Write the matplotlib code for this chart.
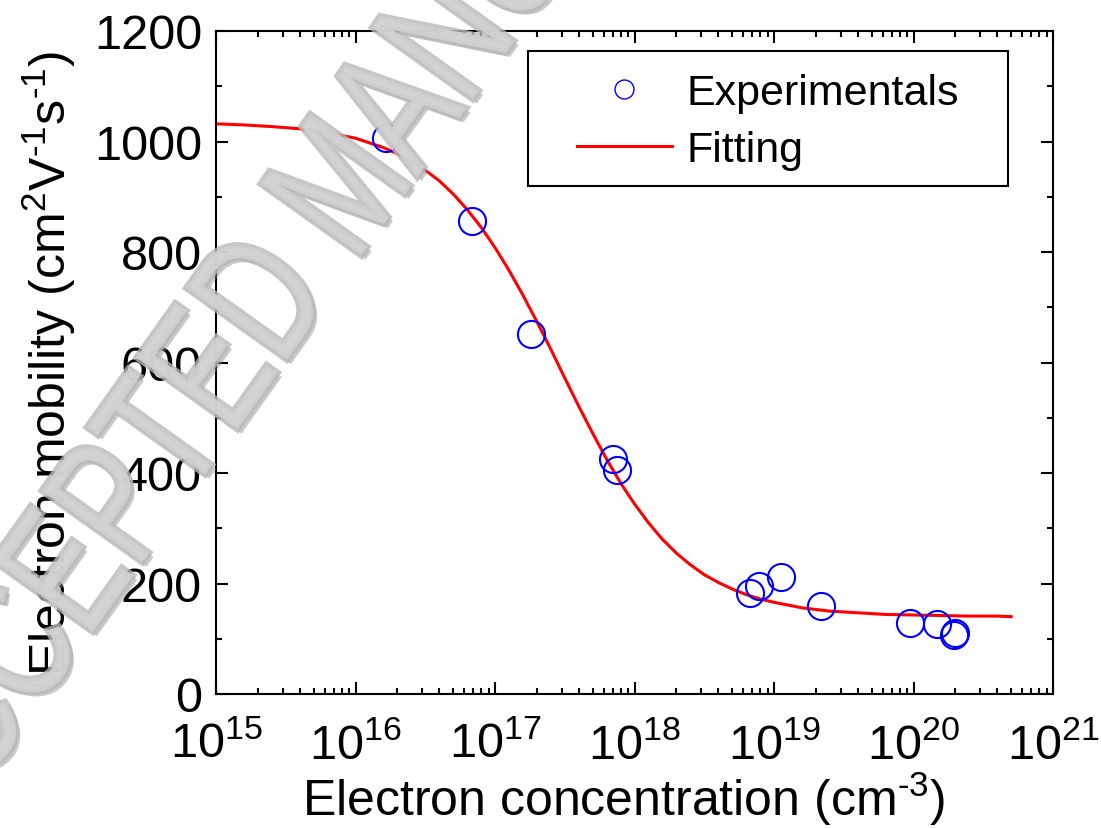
import matplotlib
matplotlib.use('Agg')
import matplotlib.pyplot as plt
import matplotlib.patheffects as pe
from matplotlib.patches import Rectangle, PathPatch
from matplotlib.textpath import TextPath
from matplotlib.font_manager import FontProperties
from matplotlib.transforms import Affine2D
from matplotlib.ticker import LogLocator, MultipleLocator, NullFormatter

plt.rcParams['font.family'] = ['Liberation Sans', 'DejaVu Sans']
plt.rcParams['mathtext.fontset'] = 'custom'
plt.rcParams['mathtext.rm'] = 'Liberation Sans'
plt.rcParams['mathtext.it'] = 'Liberation Sans:italic'
plt.rcParams['mathtext.bf'] = 'Liberation Sans:bold'

# ---- data ----
conc_exp = [1.66e16, 6.8e16, 1.81e17, 6.98e17, 7.45e17, 6.76e18, 7.8e18,
            1.12e19, 2.17e19, 9.4e19, 1.47e20, 1.95e20, 2.0e20]
mob_exp = [1007, 857, 652, 426, 406, 183, 196, 211, 160, 128, 127, 107, 111]

fit_log_conc = [15.0, 15.2, 15.4, 15.6, 15.8, 16.0, 16.2, 16.3, 16.4, 16.5,
                16.6, 16.7, 16.8, 16.9, 17.0, 17.1, 17.2, 17.3, 17.4, 17.5,
                17.6, 17.7, 17.8, 17.9, 18.0, 18.1, 18.2, 18.3, 18.4, 18.5,
                18.6, 18.7, 18.8, 18.9, 19.0, 19.2, 19.4, 19.6, 19.8, 20.0,
                20.2, 20.4, 20.6, 20.7]
fit_mob = [1032, 1030, 1027, 1023, 1016, 1006, 989, 978, 965, 948,
           929, 905, 877, 845, 808, 767, 722, 674, 624, 572,
           521, 472, 425, 382, 344, 310, 280, 255, 234, 216,
           202, 190, 180, 172, 166, 156, 150, 147, 144, 143,
           142, 141, 141, 140]
fit_conc = [10 ** v for v in fit_log_conc]

W, H = 1101, 829
fig = plt.figure(figsize=(W / 100, H / 100), dpi=100)
ax = fig.add_axes([216 / W, 1 - 695 / H, (1053 - 216) / W, (695 - 32) / H])

h_fit, = ax.plot(fit_conc, fit_mob, color='red', lw=2.2, label='Fitting', zorder=2)
h_exp, = ax.plot(conc_exp, mob_exp, ls='none', marker='o', ms=19.5, mfc='none',
                 mec='blue', mew=1.5, label='Experimentals', zorder=3)

ax.set_xscale('log')
ax.set_xlim(1e15, 1e21)
ax.set_ylim(0, 1200)
ax.xaxis.set_major_locator(LogLocator(base=10, numticks=20))
ax.xaxis.set_minor_locator(LogLocator(base=10, subs=range(2, 10), numticks=20))
ax.xaxis.set_minor_formatter(NullFormatter())
ax.yaxis.set_major_locator(MultipleLocator(200))
ax.yaxis.set_minor_locator(MultipleLocator(100))

ax.tick_params(which='both', direction='in', top=True, right=True, width=1.5)
ax.tick_params(which='major', length=8.5, labelsize=35)
ax.tick_params(which='minor', length=4.3)
ax.tick_params(axis='y', pad=10)
ax.tick_params(axis='x', pad=20)
for s in ax.spines.values():
    s.set_linewidth(1.5)

ax.set_xlabel(r'Electron concentration (cm$^{\text{-}3}$)', fontsize=36)
ax.set_ylabel(r'Electron mobility (cm$^{2}$V$^{\text{-}1}$s$^{\text{-}1}$)', fontsize=36)
ax.xaxis.set_label_coords(0.487, -0.113)
ax.yaxis.set_label_coords(-0.165, 0.5)

# legend frame drawn as a plain rectangle, entries centred inside it
fx0, fx1, fy0, fy1 = 528, 1008, 52, 187
ax.add_patch(Rectangle(((fx0 - 216) / 837, (695 - fy1) / 663),
                       (fx1 - fx0) / 837, (fy1 - fy0) / 663,
                       transform=ax.transAxes, facecolor='white',
                       edgecolor='black', lw=1.5, zorder=4))
leg = ax.legend(handles=[h_exp, h_fit], loc='center',
                bbox_to_anchor=(((fx0 + fx1) / 2 - 216) / 837,
                                (695 - (fy0 + fy1) / 2 - 3) / 663),
                borderaxespad=0, fontsize=31, frameon=False,
                markerscale=0.7, handlelength=2.2, handletextpad=0.35,
                labelspacing=0.4, borderpad=0.0)
leg.set_zorder(5)
leg.legend_handles[0].set_markeredgewidth(1.0)

# watermark (tall, tightly spaced grey letters, as in the reference)
wm = TextPath((0, 0), 'ACCEPTED MANUSCRIPT', size=1,
              prop=FontProperties(family='Liberation Sans'))
ext = wm.get_extents()
cx = (ext.x0 + ext.x1) / 2
cy = (ext.y0 + ext.y1) / 2
wm_tr = (Affine2D().translate(-cx, -cy).scale(128, 180)
         .rotate_deg(54.5).translate(337, H - 184))
wm_patch = PathPatch(wm, transform=wm_tr, facecolor='#d3d3d3',
                     edgecolor='none', alpha=0.8, zorder=10)
wm_patch.set_path_effects([
    pe.SimplePatchShadow(offset=(3, -3), shadow_rgbFace='#8a8a8a', alpha=0.45),
    pe.Stroke(linewidth=4.5, foreground='#b8b8b8'),
    pe.Normal()])
fig.add_artist(wm_patch)

fig.savefig('out.png', dpi=100)
